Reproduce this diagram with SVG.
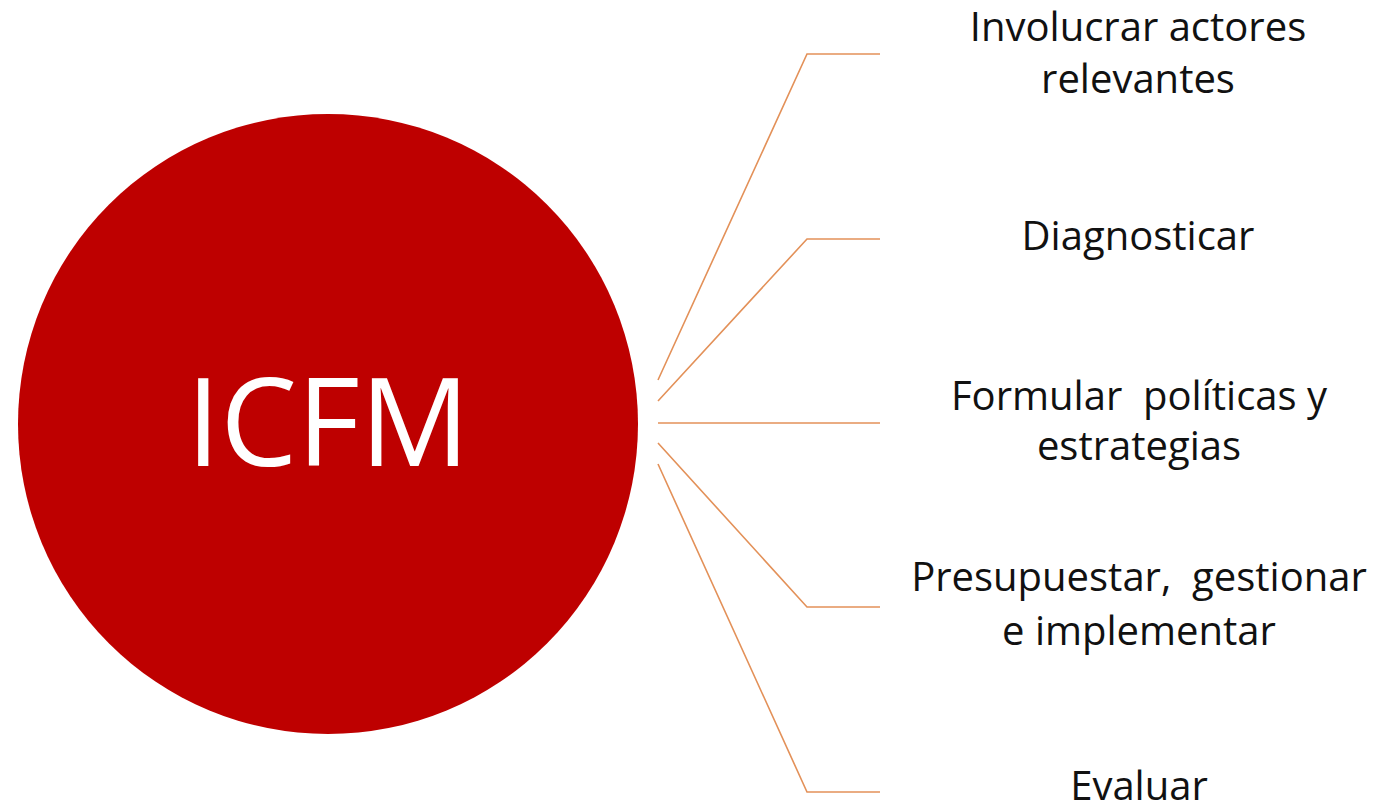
<svg xmlns="http://www.w3.org/2000/svg" width="1391" height="805" viewBox="0 0 1391 805">
<style>
.conn{fill:none;stroke:#E39159;stroke-width:1.6}
.lbl{font-family:"Open Sans","Liberation Sans",sans-serif;font-size:40px;fill:#111;text-anchor:middle;white-space:pre}
.hub{font-family:"Open Sans","Liberation Sans",sans-serif;font-size:122px;fill:#fff;text-anchor:middle}
</style>
<rect width="1391" height="805" fill="#fff"/>
<g id="connectors">
<polyline class="conn" points="658,380 807,54 880,54"/>
<polyline class="conn" points="658,401 807,239 880,239"/>
<polyline class="conn" points="658,423 880,423"/>
<polyline class="conn" points="658,443 807,607 880,607"/>
<polyline class="conn" points="658,464 807,792 880,792"/>
</g>
<g id="node-icfm">
<circle cx="328" cy="424" r="310" fill="#BE0000"/>
<text class="hub" x="328" y="466">ICFM</text>
</g>
<g id="node-involucrar">
<text class="lbl" x="1138" y="41">Involucrar actores</text>
<text class="lbl" x="1138" y="93">relevantes</text>
</g>
<g id="node-diagnosticar">
<text class="lbl" x="1138" y="250">Diagnosticar</text>
</g>
<g id="node-formular">
<text class="lbl" x="1139" y="410">Formular  políticas y</text>
<text class="lbl" x="1139" y="460">estrategias</text>
</g>
<g id="node-presupuestar">
<text class="lbl" x="1139" y="591">Presupuestar,  gestionar</text>
<text class="lbl" x="1139" y="645">e implementar</text>
</g>
<g id="node-evaluar">
<text class="lbl" x="1139" y="800">Evaluar</text>
</g>
</svg>
